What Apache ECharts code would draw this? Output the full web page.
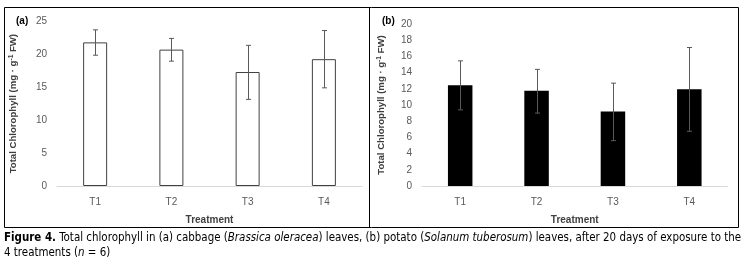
<!DOCTYPE html>
<html><head><meta charset="utf-8">
<script src="https://cdn.jsdelivr.net/npm/echarts@6/dist/echarts.min.js"></script>
<style>html,body{margin:0;padding:0;background:#fff}#c{width:747px;height:263px}</style>
</head><body><div id="c"></div>
<script>
const categories = ['T1', 'T2', 'T3', 'T4'];
const cabbageMean = [21.8, 20.7, 17.3, 19.25];
const cabbageUpper = [23.7, 22.4, 21.35, 23.6];
const cabbageLower = [19.85, 18.95, 13.15, 14.9];
const potatoMean = [12.45, 11.75, 9.2, 11.95];
const potatoUpper = [15.45, 14.4, 12.7, 17.1];
const potatoLower = [9.4, 9.0, 5.6, 6.75];
const yTicksA = { min: 0, max: 25, interval: 5 };
const yTicksB = { min: 0, max: 20, interval: 2 };

const chart = echarts.init(document.getElementById('c'), null, { renderer: 'canvas' });
const FONT = 'Liberation Sans';
const CAP = 'DejaVu Sans Condensed';
const yName = '{t|Total Chlorophyll (mg · g}{s|-1}{t| FW)}';
const yNameRich = {
  t: { fontFamily: FONT, fontSize: 9.6, fontWeight: 'bold', color: '#404040' },
  s: { fontFamily: FONT, fontSize: 6.5, fontWeight: 'bold', color: '#404040', verticalAlign: 'top', padding: [0, 0, 4, 0] }
};

function errSeries(xi, yi, upper, lower) {
  return {
    type: 'custom', xAxisIndex: xi, yAxisIndex: yi, z: 10,
    data: categories.map((c, i) => [i, upper[i], lower[i]]),
    renderItem: function (params, api) {
      const hi = api.coord([api.value(0), api.value(1)]);
      const lo = api.coord([api.value(0), api.value(2)]);
      const x = Math.round(hi[0]) + 0.5;
      const w = 2.5;
      const st = { stroke: '#595959', lineWidth: 1 };
      return { type: 'group', children: [
        { type: 'line', shape: { x1: x, y1: hi[1], x2: x, y2: lo[1] }, style: st },
        { type: 'line', shape: { x1: x - w, y1: hi[1], x2: x + w, y2: hi[1] }, style: st },
        { type: 'line', shape: { x1: x - w, y1: lo[1], x2: x + w, y2: lo[1] }, style: st }
      ]};
    }
  };
}

function xAxis(gi) {
  return {
    type: 'category', gridIndex: gi, data: categories,
    axisLine: { lineStyle: { color: '#d9d9d9' } }, axisTick: { show: false },
    axisLabel: { color: '#595959', fontFamily: FONT, fontSize: 10, margin: 11 },
    name: 'Treatment', nameLocation: 'middle', nameGap: 29,
    nameTextStyle: { color: '#404040', fontFamily: FONT, fontSize: 10, fontWeight: 'bold' }
  };
}
function yAxis(gi, t, gap) {
  return {
    type: 'value', gridIndex: gi, min: t.min, max: t.max, interval: t.interval,
    splitLine: { show: false }, axisLine: { show: false }, axisTick: { show: false },
    axisLabel: { color: '#595959', fontFamily: FONT, fontSize: 10, margin: 10 },
    name: yName, nameLocation: 'middle', nameGap: gap, nameRotate: 90,
    nameTextStyle: { rich: yNameRich }
  };
}

chart.setOption({
  animation: false,
  grid: [
    { left: 57, top: 21.3, width: 305, height: 164.7 },
    { left: 422, top: 24, width: 305.5, height: 162 }
  ],
  xAxis: [xAxis(0), xAxis(1)],
  yAxis: [yAxis(0, yTicksA, 38), yAxis(1, yTicksB, 35.5)],
  series: [
    { type: 'bar', xAxisIndex: 0, yAxisIndex: 0, data: cabbageMean, barWidth: 24,
      itemStyle: { color: '#ffffff', borderColor: '#404040', borderWidth: 1 } },
    errSeries(0, 0, cabbageUpper, cabbageLower),
    { type: 'bar', xAxisIndex: 1, yAxisIndex: 1, data: potatoMean, barWidth: 24.5,
      itemStyle: { color: '#000000' } },
    errSeries(1, 1, potatoUpper, potatoLower)
  ],
  graphic: [
    { type: 'rect', shape: { x: 4.5, y: 7.5, width: 734, height: 220 }, style: { fill: 'none', stroke: '#000', lineWidth: 1 } },
    { type: 'line', shape: { x1: 369.5, y1: 7.5, x2: 369.5, y2: 227.5 }, style: { stroke: '#000', lineWidth: 1 } },
    { type: 'text', x: 16, y: 16, style: { text: '(a)', fontFamily: FONT, fontSize: 10, fontWeight: 'bold', fill: '#000' } },
    { type: 'text', x: 382, y: 16, style: { text: '(b)', fontFamily: FONT, fontSize: 10, fontWeight: 'bold', fill: '#000' } },
    { type: 'text', x: 4, y: 231, style: {
      text: '{b|Figure 4.}{n| Total chlorophyll in (a) cabbage (}{i|Brassica oleracea}{n|) leaves, (b) potato (}{i|Solanum tuberosum}{n|) leaves, after 20 days of exposure to the}\n{n|4 treatments (}{i|n}{n| = 6)}',
      lineHeight: 15,
      rich: {
        b: { fontFamily: CAP, fontSize: 11.45, fontWeight: 'bold', fill: '#000', lineHeight: 15 },
        n: { fontFamily: CAP, fontSize: 11.45, fill: '#000', lineHeight: 15 },
        i: { fontFamily: CAP, fontSize: 11.45, fontStyle: 'italic', fill: '#000', lineHeight: 15 }
      }
    } }
  ]
});
</script></body></html>
